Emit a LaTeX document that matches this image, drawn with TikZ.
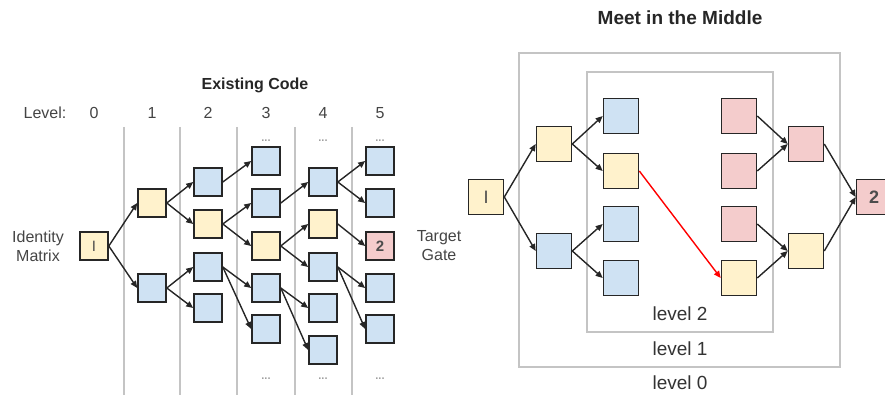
\documentclass[tikz,border=0pt]{standalone}
\usepackage{fontspec}
\setmainfont{Liberation Sans}
\usetikzlibrary{arrows.meta}
\definecolor{yel}{HTML}{FFF2CC}
\definecolor{blu}{HTML}{CFE2F3}
\definecolor{pnk}{HTML}{F4CCCC}
\definecolor{sep}{HTML}{C4C4C4}
\definecolor{txt}{HTML}{444444}
\begin{document}
\begin{tikzpicture}[x=1pt,y=-1pt,
  gbox/.style={draw=black!85, line width=1.6pt, minimum size=28pt, inner sep=0pt, font=\fontsize{15}{15}\selectfont, text=black!70},
  sbox/.style={gbox, minimum size=35pt, font=\fontsize{18}{18}\selectfont},
  yb/.style={fill=yel}, bb/.style={fill=blu}, pb/.style={fill=pnk},
  arr/.style={-{Triangle[length=7pt,width=6pt]}, line width=1.4pt, draw=black!85},
  sepline/.style={draw=sep, line width=1.8pt},
  lbl/.style={text=txt, font=\fontsize{16}{19}\selectfont, align=center, inner sep=0pt},
  ttl/.style={text=black!85, font=\bfseries\fontsize{16}{19}\selectfont, inner sep=0pt},
  dots/.style={text=gray!75, font=\bfseries\fontsize{11}{11}\selectfont, inner sep=0pt},
  frame/.style={draw=sep, line width=1.8pt}]
\useasboundingbox (0,0) rectangle (885,395);

% ---------- left: existing code ----------
\node[ttl] (t1) at (255,85) {Existing Code};
\node[lbl] (lv) at (45,113) {Level:};
\foreach \n/\x in {0/94,1/152,2/208,3/266,4/323,5/380}
  \node[lbl] (lv\n) at (\x,113) {\n};
\foreach \x in {124,180,237,295,352}
  \draw[sepline] (\x,127) -- (\x,395);

\node[lbl] (idm) at (38,246) {Identity\\Matrix};
\node[lbl] (tg) at (439,246) {Target\\Gate};

\node[gbox,yb] (a0) at (94,246) {I};
\node[gbox,yb] (b1y) at (152,203) {};
\node[gbox,bb] (b1b) at (152,288) {};
\node[gbox,bb] (c2a) at (208,182) {};
\node[gbox,yb] (c2b) at (208,224) {};
\node[gbox,bb] (c2c) at (208,267) {};
\node[gbox,bb] (c2d) at (208,308) {};
\node[gbox,bb] (d3a) at (266,161) {};
\node[gbox,bb] (d3b) at (266,203) {};
\node[gbox,yb] (d3c) at (266,246) {};
\node[gbox,bb] (d3d) at (266,288) {};
\node[gbox,bb] (d3e) at (266,329) {};
\node[gbox,bb] (e4a) at (323,182) {};
\node[gbox,yb] (e4b) at (323,224) {};
\node[gbox,bb] (e4c) at (323,267) {};
\node[gbox,bb] (e4d) at (323,308) {};
\node[gbox,bb] (e4e) at (323,350) {};
\node[gbox,bb] (f5a) at (380,161) {};
\node[gbox,bb] (f5b) at (380,203) {};
\node[gbox,pb,font=\bfseries\fontsize{15}{15}\selectfont] (f5c) at (380,246) {2};
\node[gbox,bb] (f5d) at (380,288) {};
\node[gbox,bb] (f5e) at (380,329) {};

\foreach \x/\n in {266/3,323/4,380/5}{
  \node[dots] (dt\n) at (\x,141) {...};
  \node[dots] (db\n) at (\x,379) {...};
}

\foreach \s/\t in {a0/b1y,a0/b1b,b1y/c2a,b1y/c2b,b1b/c2c,b1b/c2d,
  c2a/d3a,c2b/d3b,c2b/d3c,c2c/d3d,c2c/d3e,
  d3b/e4a,d3c/e4b,d3c/e4c,d3d/e4d,d3d/e4e,
  e4a/f5a,e4a/f5b,e4b/f5c,e4c/f5d,e4c/f5e}
  \draw[arr] (\s.east) -- (\t.west);

% ---------- right: meet in the middle ----------
\node[ttl, font=\bfseries\fontsize{19}{22}\selectfont] (t2) at (680,18) {Meet in the Middle};
\draw[frame] (519,53) rectangle (840,367);
\draw[frame] (587,72) rectangle (773,332);
\node[lbl, font=\fontsize{19}{22}\selectfont, text=black!80] (l2) at (680,314) {level 2};
\node[lbl, font=\fontsize{19}{22}\selectfont, text=black!80] (l1) at (680,349) {level 1};
\node[lbl, font=\fontsize{19}{22}\selectfont, text=black!80] (l0) at (680,383) {level 0};

\node[sbox,yb] (rI) at (486,197) {I};
\node[sbox,yb] (r1y) at (554,144) {};
\node[sbox,bb] (r1b) at (554,251) {};
\node[sbox,bb] (r2a) at (621,116) {};
\node[sbox,yb] (r2b) at (621,171) {};
\node[sbox,bb] (r2c) at (621,224) {};
\node[sbox,bb] (r2d) at (621,278) {};
\node[sbox,pb] (r3a) at (739,116) {};
\node[sbox,pb] (r3b) at (739,171) {};
\node[sbox,pb] (r3c) at (739,224) {};
\node[sbox,yb] (r3d) at (739,278) {};
\node[sbox,pb] (r4a) at (806,144) {};
\node[sbox,yb] (r4b) at (806,251) {};
\node[sbox,pb,font=\bfseries\fontsize{18}{18}\selectfont] (r5) at (874,197) {2};

\foreach \s/\t in {rI/r1y,rI/r1b,r1y/r2a,r1y/r2b,r1b/r2c,r1b/r2d,
  r3a/r4a,r3b/r4a,r3c/r4b,r3d/r4b,r4a/r5,r4b/r5}
  \draw[arr] (\s.east) -- (\t.west);
\draw[arr, draw=red, fill=red] (r2b.east) -- (r3d.west);
\end{tikzpicture}
\end{document}
